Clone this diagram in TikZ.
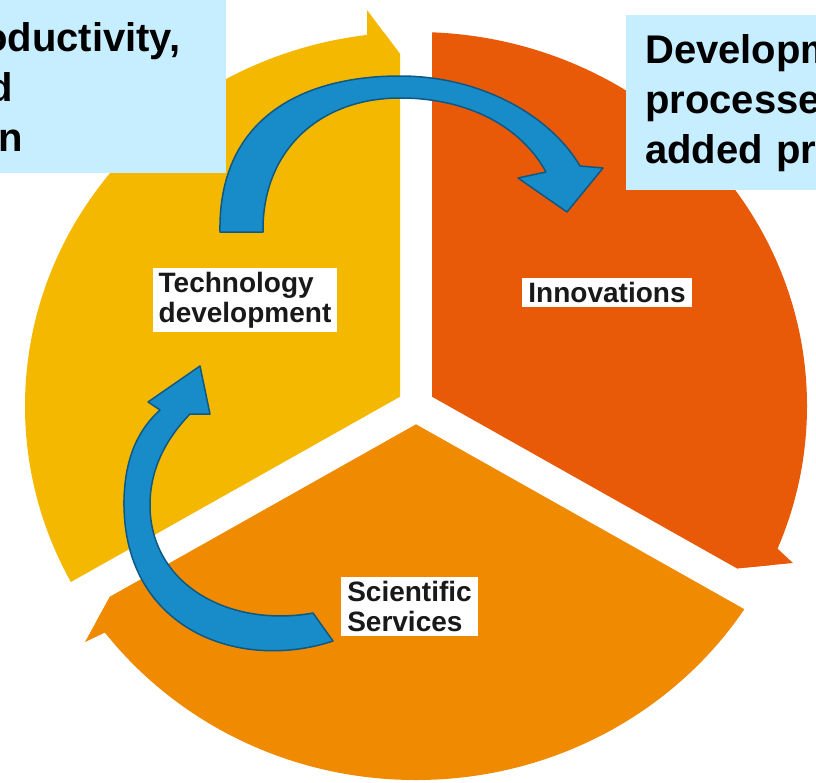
\documentclass[tikz,border=0pt]{standalone}
\usepackage{fontspec}
\setmainfont{Liberation Sans}
\definecolor{techyellow}{RGB}{245,184,0}
\definecolor{innored}{RGB}{232,90,8}
\definecolor{servorange}{RGB}{240,138,0}
\definecolor{loopblue}{RGB}{24,140,200}
\definecolor{loopedge}{RGB}{14,88,132}
\definecolor{goalblue}{RGB}{198,238,255}

\begin{document}
\begin{tikzpicture}[x=1pt, y=-1pt,
    stage/.style={fill=white, inner xsep=6pt, inner ysep=4pt, align=left, text=black!90,
      font=\fontsize{28}{30}\selectfont\bfseries},
    goal/.style={fill=goalblue, anchor=north west, align=left, inner ysep=0pt,
      font=\fontsize{40}{50}\selectfont\bfseries},
    loop/.style={fill=loopblue, draw=loopedge, line width=1.5pt, line join=round}]
    \useasboundingbox (0,0) rectangle (816,782);
    \clip (0,0) rectangle (816,782);

    % --- Segment 1: technology development (yellow, left) ---
    \begin{scope}
      \clip (400,396.7) -- (400,54) -- (367,10) -- (367,-50) -- (-100,-50) -- (-100,678.2) -- cycle;
      \fill[techyellow] (416,406) ellipse [x radius=391pt, y radius=374pt];
    \end{scope}
    \fill[techyellow] (367,45) -- (367,10) -- (400,54) -- cycle;

    % --- Segment 2: innovations (red, right) ---
    \begin{scope}
      \clip (432,396.7) -- (432,-50) -- (900,-50) -- (900,553) -- (793,563) -- (737,568.4) -- cycle;
      \fill[innored] (416,406) ellipse [x radius=391pt, y radius=374pt];
    \end{scope}
    \fill[innored] (766,538) -- (793,563) -- (737,568.4) -- cycle;

    % --- Segment 3: scientific services (orange, bottom) ---
    \begin{scope}
      \clip (416,424.3) -- (110,596.6) -- (85,642) -- (-55,900) -- (900,900) -- (900,696.8) -- cycle;
      \fill[servorange] (416,406) ellipse [x radius=391pt, y radius=374pt];
    \end{scope}
    \fill[servorange] (110,596.6) -- (85,642) -- (106,632) -- cycle;

    % --- Goal boxes, cut by the page edge ---
    \node[goal, minimum height=173pt, text width=233pt, inner xsep=10pt] (gainbox) at (-27,0)
      {oductivity,\\\hspace*{5pt}d\\\hspace*{15pt}n};
    \node[goal, minimum height=175pt, text width=200pt, inner xsep=19pt] (devbox) at (626,15)
      {Developm\\processe\\added pr};

    % --- Loop arrows ---
    \draw[loop] (220,232) .. controls (218,120) and (300,76) .. (400,76)
      .. controls (480,76) and (550,115) .. (580,166) -- (603,168) -- (567,212) -- (518,178) -- (546,172)
      .. controls (522,128) and (470,98) .. (400,98)
      .. controls (320,98) and (262,150) .. (263,232) -- cycle;
    \draw[loop] (313,613) -- (333,641) .. controls (240,672) and (122,630) .. (124,500)
      .. controls (125,455) and (140,428) .. (160,410) -- (148,402) -- (200,366) -- (210,414) -- (190,414)
      .. controls (165,440) and (150,470) .. (150,505)
      .. controls (150,585) and (230,628) .. (313,613) -- cycle;

    % --- Stage labels ---
    \node[stage] (tech) at (245,300) {Technology\\development};
    \node[stage] (innov) at (607,292.5) {Innovations};
    \node[stage] (serv) at (409.5,606.5) {Scientific\\Services};
\end{tikzpicture}
\end{document}
